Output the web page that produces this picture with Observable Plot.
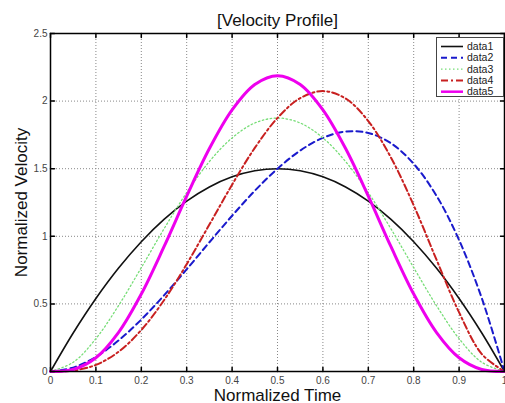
<!DOCTYPE html>
<html>
<head>
<meta charset="utf-8">
<script src="https://cdn.jsdelivr.net/npm/d3@7"></script>
<script src="https://cdn.jsdelivr.net/npm/@observablehq/plot@0.6"></script>
<style>
  html, body { margin: 0; padding: 0; background: white; }
  #wrap { position: relative; width: 505px; height: 403px; overflow: hidden; }
  #legend { position: absolute; left: 436px; top: 37px; }
</style>
</head>
<body>
<div id="wrap"></div>
<script>
const title = "[Velocity Profile]";
const xLabel = "Normalized Time";
const yLabel = "Normalized Velocity";
const xTicks = [0, 0.1, 0.2, 0.3, 0.4, 0.5, 0.6, 0.7, 0.8, 0.9, 1];
const yTicks = [0, 0.5, 1, 1.5, 2, 2.5];
const seriesNames = ["data1", "data2", "data3", "data4", "data5"];
const t = [0, 0.05, 0.1, 0.15, 0.2, 0.25, 0.3, 0.35, 0.4, 0.45, 0.5, 0.55, 0.6, 0.65, 0.7, 0.75, 0.8, 0.85, 0.9, 0.95, 1];
const data1 = [0, 0.285, 0.54, 0.765, 0.96, 1.125, 1.26, 1.365, 1.44, 1.485, 1.5, 1.485, 1.44, 1.365, 1.26, 1.125, 0.96, 0.765, 0.54, 0.285, 0];
const data2 = [0, 0.029, 0.108, 0.23, 0.384, 0.563, 0.756, 0.956, 1.152, 1.337, 1.5, 1.634, 1.728, 1.775, 1.764, 1.688, 1.536, 1.301, 0.972, 0.542, 0];
const data3 = [0, 0.068, 0.243, 0.488, 0.768, 1.055, 1.323, 1.553, 1.728, 1.838, 1.875, 1.838, 1.728, 1.553, 1.323, 1.055, 0.768, 0.488, 0.243, 0.068, 0];
const data4 = [0, 0.007, 0.049, 0.146, 0.307, 0.527, 0.794, 1.087, 1.382, 1.654, 1.875, 2.022, 2.074, 2.019, 1.852, 1.582, 1.229, 0.829, 0.437, 0.129, 0];
const data5 = [0, 0.015, 0.102, 0.29, 0.573, 0.923, 1.297, 1.649, 1.935, 2.123, 2.188, 2.123, 1.935, 1.649, 1.297, 0.923, 0.573, 0.29, 0.102, 0.015, 0];

const styles = {
  data1: {stroke: "#111111", strokeWidth: 1.6, dash: null},
  data2: {stroke: "#1a1acc", strokeWidth: 2, dash: "6,4"},
  data3: {stroke: "#77dd77", strokeWidth: 1.3, dash: "1.5,2.5"},
  data4: {stroke: "#c82020", strokeWidth: 2, dash: "7,3,2,3"},
  data5: {stroke: "#ee00ee", strokeWidth: 3, dash: null}
};
const allSeries = [data1, data2, data3, data4, data5];

const tickShape = {draw(ctx, l) { ctx.moveTo(0, 0); ctx.lineTo(0, -l); }};
const font = "'Liberation Sans', Arial, Helvetica, sans-serif";

const lineMarks = seriesNames.map((name, i) => {
  const rows = t.map((x, j) => ({x, y: allSeries[i][j]}));
  const s = styles[name];
  return Plot.line(rows, {x: "x", y: "y", curve: "catmull-rom", stroke: s.stroke, strokeWidth: s.strokeWidth, strokeDasharray: s.dash});
});

const chart = Plot.plot({
  width: 505,
  height: 403,
  marginLeft: 50,
  marginTop: 33,
  marginBottom: 32,
  marginRight: 1,
  style: {fontFamily: font, background: "white"},
  x: {domain: [0, 1], label: null},
  y: {domain: [0, 2.5], label: null},
  marks: [
    Plot.gridX(xTicks, {stroke: "#888", strokeOpacity: 1, strokeDasharray: "1,2"}),
    Plot.gridY(yTicks, {stroke: "#888", strokeOpacity: 1, strokeDasharray: "1,2"}),
    ...lineMarks,
    Plot.frame({stroke: "black", strokeWidth: 1.5}),
    Plot.vector(xTicks, {x: d => d, frameAnchor: "bottom", length: 4, anchor: "start", rotate: 0, shape: tickShape, stroke: "black", strokeWidth: 1.5}),
    Plot.vector(xTicks, {x: d => d, frameAnchor: "top", length: 4, anchor: "start", rotate: 180, shape: tickShape, stroke: "black", strokeWidth: 1.5}),
    Plot.vector(yTicks, {y: d => d, frameAnchor: "left", length: 4, anchor: "start", rotate: 90, shape: tickShape, stroke: "black", strokeWidth: 1.5}),
    Plot.vector(yTicks, {y: d => d, frameAnchor: "right", length: 4, anchor: "start", rotate: -90, shape: tickShape, stroke: "black", strokeWidth: 1.5}),
    Plot.axisX(xTicks, {tickSize: 0, tickPadding: 5, fontSize: 10, color: "#444", tickFormat: d => String(d), label: null}),
    Plot.axisY(yTicks, {tickSize: 0, tickPadding: 3, fontSize: 10, color: "#444", tickFormat: d => String(d), label: null}),
    Plot.text([title], {frameAnchor: "top", dy: -8, fontSize: 17, fill: "#111", lineAnchor: "bottom", textAnchor: "middle", text: d => d}),
    Plot.text([xLabel], {frameAnchor: "bottom", dy: 29, fontSize: 17, fill: "#111", lineAnchor: "bottom", textAnchor: "middle", text: d => d}),
    Plot.text([yLabel], {frameAnchor: "left", dx: -24, rotate: -90, fontSize: 17, fill: "#111", lineAnchor: "bottom", textAnchor: "middle", text: d => d})
  ]
});

const wrap = document.getElementById("wrap");
wrap.appendChild(chart);

// legend overlay
const lg = d3.select(wrap).append("svg").attr("id", "legend").attr("width", 68).attr("height", 60)
  .style("font-family", font);
lg.append("rect").attr("x", 0.5).attr("y", 0.5).attr("width", 67).attr("height", 59)
  .attr("fill", "white").attr("stroke", "#444").attr("stroke-width", 1);
seriesNames.forEach((name, i) => {
  const s = styles[name];
  const yy = 9.5 + i * 11.3;
  lg.append("line").attr("x1", 5).attr("x2", 27).attr("y1", yy).attr("y2", yy)
    .attr("stroke", s.stroke).attr("stroke-width", Math.min(s.strokeWidth, 2.5))
    .attr("stroke-dasharray", s.dash);
  lg.append("text").attr("x", 31).attr("y", yy + 3.5).attr("font-size", 10.5).attr("fill", "#222").text(name);
});
</script>
</body>
</html>
